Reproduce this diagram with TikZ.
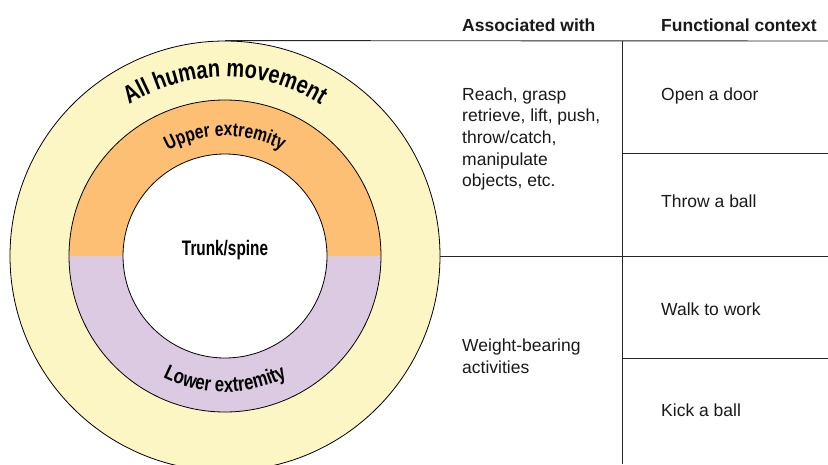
\documentclass[tikz,border=0pt]{standalone}
\usepackage{fontspec}
\setmainfont{Liberation Sans}
\newfontfamily\arcfont[FakeStretch=0.8]{Liberation Sans}
\newfontfamily\condfont[FakeStretch=0.73]{Liberation Sans}
\usepackage{xcolor}
\usetikzlibrary{calc,positioning,decorations.text}
\definecolor{ringyellow}{HTML}{FBF6C3}
\definecolor{ringorange}{HTML}{FDBF73}
\definecolor{ringpurple}{HTML}{DCCAE2}

\begin{document}
\begin{tikzpicture}[x=1pt,y=1pt,
    rule/.style={draw=black!85, line width=0.9pt},
    ring/.style={circle, draw, line width=0.8pt, inner sep=0pt},
    cell/.style={anchor=base west, inner sep=0pt, align=left, text=black!90,
        font=\fontsize{17.5}{21.7}\selectfont},
    head/.style={cell, font=\bfseries\fontsize{17.5}{21.7}\selectfont}]
        \useasboundingbox (0,0) rectangle (828,-464);
        \coordinate (c) at (225,-256);
        % Draw rings
        \node[ring, fill=ringyellow, minimum size=430pt] (outer) at (c) {};
        \fill[ringorange] ($(c)+(0:156)$) arc[start angle=0, end angle=180, radius=156] -- cycle;
        \fill[ringpurple] ($(c)+(180:156)$) arc[start angle=180, end angle=360, radius=156] -- cycle;
        \node[ring, minimum size=312pt] (middle) at (c) {};
        \node[ring, fill=white, minimum size=204pt] (inner) at (c) {};
        \node[font=\condfont\bfseries\fontsize{21}{21}\selectfont] (trunk) at ($(c)+(0,6)$) {Trunk/spine};
        % Labels along the rings
        \path[decorate, decoration={text along path, text align=center,
            text={|\arcfont\bfseries\fontsize{25}{25}\selectfont|All human movement}}]
            ($(c)+(160:179)$) arc[start angle=160, end angle=20, radius=179];
        \path[decorate, decoration={text along path, text align=center,
            text={|\arcfont\bfseries\fontsize{19.5}{19.5}\selectfont|Upper extremity}}]
            ($(c)+(160:120)$) arc[start angle=160, end angle=20, radius=120];
        \path[decorate, decoration={text along path, text align=center,
            text={|\arcfont\bfseries\fontsize{21}{21}\selectfont|Lower extremity}}]
            ($(c)+(200:136)$) arc[start angle=200, end angle=340, radius=136];
        % Table rules
        \coordinate (topR) at (828,-41);
        \coordinate (midR) at (828,-256);
        \coordinate (colT) at (622,-41);
        \coordinate (colB) at (622,-464);
        \coordinate (rowA) at (622,-153);
        \coordinate (rowAR) at (828,-153);
        \coordinate (rowB) at (622,-358);
        \coordinate (rowBR) at (828,-358);
        \draw[rule] (outer.north) -- (topR);
        \draw[rule] (outer.east) -- (midR);
        \draw[rule] (colT) -- (colB);
        \draw[rule] (rowA) -- (rowAR);
        \draw[rule] (rowB) -- (rowBR);
        % Table text (base of a wrapped cell is its last line)
        \node[head] (assoc) at (462,-31.7) {Associated with};
        \node[head] (func) at (661,-31.7) {Functional context};
        \node[cell] (reach) at (462,-186.8) {Reach, grasp\\retrieve, lift, push,\\throw/catch,\\manipulate\\objects, etc.};
        \node[cell] (door) at (661,-100) {Open a door};
        \node[cell] (throw) at (661,-207) {Throw a ball};
        \node[cell] (walk) at (661,-315) {Walk to work};
        \node[cell] (weight) at (462,-373.5) {Weight-bearing\\activities};
        \node[cell] (kick) at (661,-416.7) {Kick a ball};
\end{tikzpicture}
\end{document}
